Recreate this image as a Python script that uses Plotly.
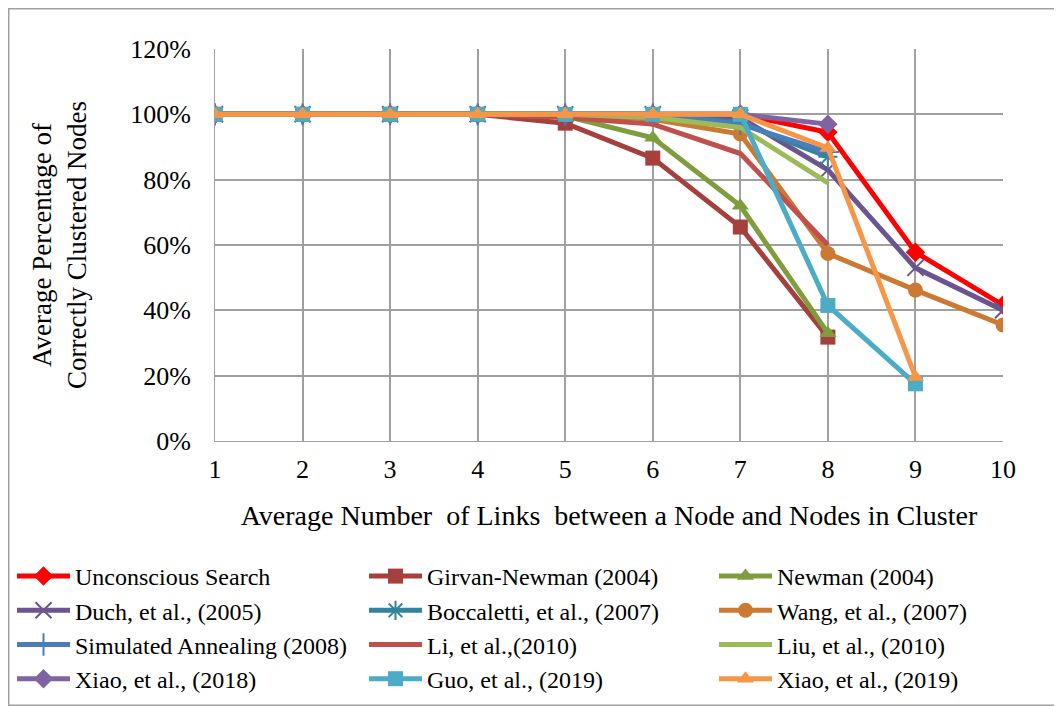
import plotly.graph_objects as go

x_vals = [1, 2, 3, 4, 5, 6, 7, 8, 9, 10]

names = [
    "Unconscious Search", "Girvan-Newman (2004)", "Newman (2004)",
    "Duch, et al., (2005)", "Boccaletti, et al., (2007)", "Wang, et al., (2007)",
    "Simulated Annealing (2008)", "Li, et al.,(2010)", "Liu, et al., (2010)",
    "Xiao, et al., (2018)", "Guo, et al., (2019)", "Xiao, et al., (2019)",
]

unconscious = [1, 1, 1, 1, 1, 1, 1, 0.945, 0.578, 0.416]
girvan = [1, 1, 1, 1, 0.973, 0.866, 0.655, 0.318]
newman = [1, 1, 1, 1, 0.995, 0.928, 0.72, 0.33]
duch = [1, 1, 1, 1, 1, 1, 0.99, 0.83, 0.53, 0.40]
boccaletti = [1, 1, 1, 1, 1, 1, 0.975, 0.87]
wang = [1, 1, 1, 1, 1, 0.985, 0.94, 0.574, 0.462, 0.355]
sim_annealing = [1, 1, 1, 1, 1, 1, 0.97, 0.885]
li = [1, 1, 1, 1, 0.99, 0.97, 0.88, 0.60]
liu = [1, 1, 1, 1, 1, 0.99, 0.96, 0.79]
xiao2018 = [1, 1, 1, 1, 1, 1, 1, 0.97]
guo = [1, 1, 1, 1, 1, 1, 1, 0.415, 0.175]
xiao2019 = [1, 1, 1, 1, 1, 1, 1, 0.897, 0.196]

series = [unconscious, girvan, newman, duch, boccaletti, wang,
          sim_annealing, li, liu, xiao2018, guo, xiao2019]

colors = ["#FF0000", "#A5403D", "#7E9E3E", "#6B5590", "#31849B", "#CC7A33",
          "#4A7EBB", "#C0504D", "#9BBB59", "#8064A2", "#4BACC6", "#F79646"]
symbols = ["diamond", "square", "triangle-up", "x-thin", "asterisk", "circle",
           "cross-thin", None, None, "diamond", "square", "triangle-up"]

legend_ids = ["legend", "legend2", "legend3"]

fig = go.Figure()
for i, (name, ys, c, s) in enumerate(zip(names, series, colors, symbols)):
    if s is None:
        mode = "lines"
        marker = dict()
    else:
        mode = "lines+markers"
        if s.endswith("thin") or s == "asterisk":
            marker = dict(symbol=s, size=16, color=c, line=dict(width=2, color=c))
        else:
            marker = dict(symbol=s, size=15, color=c)
    fig.add_trace(go.Scatter(
        x=x_vals[:len(ys)], y=ys, name=name, mode=mode,
        line=dict(color=c, width=5), marker=marker,
        legend=legend_ids[i % 3], legendgroup=name,
    ))

W, H = 1054, 698
L, R, T, B = 207, 59, 41, 265
pw, ph = W - L - R, H - T - B

legend_font = dict(family="Liberation Serif", size=24, color="black")
leg_y = -(546 - (H - B)) / ph


def leg(xfig):
    return dict(orientation="v", x=(xfig - L) / pw, xanchor="left", y=leg_y,
                yanchor="top", bgcolor="rgba(0,0,0,0)", font=legend_font,
                itemwidth=53, tracegroupgap=0)


fig.update_layout(
    width=W, height=H,
    margin=dict(l=L, r=R, t=T, b=B, autoexpand=False),
    paper_bgcolor="white", plot_bgcolor="white",
    font=dict(family="Liberation Serif", size=26, color="black"),
    showlegend=True,
    legend=leg(4),
    legend2=leg(356),
    legend3=leg(706),
    xaxis=dict(
        range=[1, 10], tickvals=x_vals, showgrid=True, gridcolor="#A0A0A0",
        gridwidth=1.5, zeroline=False, showline=True, linecolor="#A0A0A0",
        ticks="", ticklabelstandoff=5, automargin=False,
        title=dict(text="Average Number  of Links  between a Node and Nodes in Cluster",
                   font=dict(size=28), standoff=22),
    ),
    yaxis=dict(
        range=[0, 1.2], tickvals=[0, 0.2, 0.4, 0.6, 0.8, 1.0, 1.2], tickformat=".0%",
        showgrid=True, gridcolor="#A0A0A0", gridwidth=1.5, zeroline=False,
        showline=True, linecolor="#A0A0A0", ticks="", ticklabelstandoff=18,
        automargin=False,
        title=dict(text="Average Percentage of<br>Correctly Clustered Nodes",
                   font=dict(size=27), standoff=35),
    ),
    shapes=[dict(type="rect", xref="paper", yref="paper",
                 x0=(0.75 - L) / pw, x1=(1052 - L) / pw,
                 y0=-(697.25 - (H - B)) / ph, y1=1 + (T - 0.75) / ph,
                 line=dict(color="#A0A0A0", width=1.5))],
)

fig.write_html("out.html")
